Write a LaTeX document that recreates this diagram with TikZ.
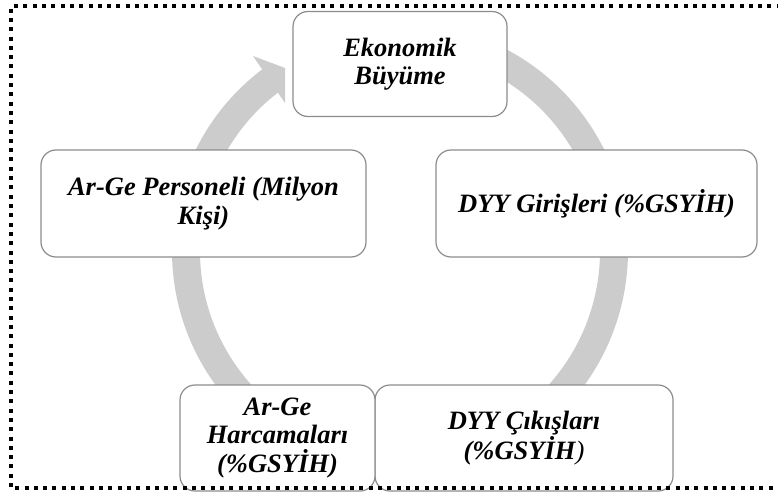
\documentclass[tikz,border=0pt]{standalone}
\usepackage{fontspec}
\setmainfont{Liberation Serif}
\begin{document}
\begin{tikzpicture}[x=1pt,y=1pt,
  box/.style={draw=black!45, line width=1.2pt, fill=white, rounded corners=15pt,
    align=center, inner sep=0pt,
    font=\fontsize{26.5}{28.5}\selectfont\bfseries\itshape},
  ring/.style={draw=black!20, line width=28pt},
  headfill/.style={fill=black!20},
  frame/.style={line width=4pt, dash pattern=on 4pt off 5.3pt}
  ]
\useasboundingbox (0,0) rectangle (778,491);
\clip (0,0) rectangle (778,491);
% cycle ring
\coordinate (ctr) at (400,240);
\draw[ring] (ctr) ++(126.5:214) arc[start angle=126.5, end angle=430, radius=214];
\coordinate (w1) at (253,435);
\coordinate (tip) at (285,423);
\coordinate (w2) at (285,388);
\fill[headfill] (w1) -- (tip) -- (w2) -- cycle;
% boxes
\node[box, minimum width=214pt, minimum height=105pt] (eko) at (400,427) {Ekonomik\\Büyüme};
\node[box, minimum width=321pt, minimum height=107pt] (dyyg) at (596.5,287.5) {DYY Girişleri (\%GSYİH)};
\node[box, minimum width=325pt, minimum height=107pt] (pers) at (203.5,287.5) {Ar-Ge Personeli (Milyon\\Kişi)};
\node[box, minimum width=298pt, minimum height=106pt] (dyyc) at (524,53) {DYY Çıkışları\\(\%GSYİH{\mdseries )}};
\node[box, minimum width=195pt, minimum height=106pt] (harc) at (277.5,53) {Ar-Ge\\Harcamaları\\(\%GSYİH)};
% dotted frame
\coordinate (f1) at (790,484.5);
\coordinate (f2) at (11,484.5);
\coordinate (f3) at (11,3);
\coordinate (f4) at (790,3);
\draw[frame] (f1) -- (f2) -- (f3) -- (f4);
\end{tikzpicture}
\end{document}
